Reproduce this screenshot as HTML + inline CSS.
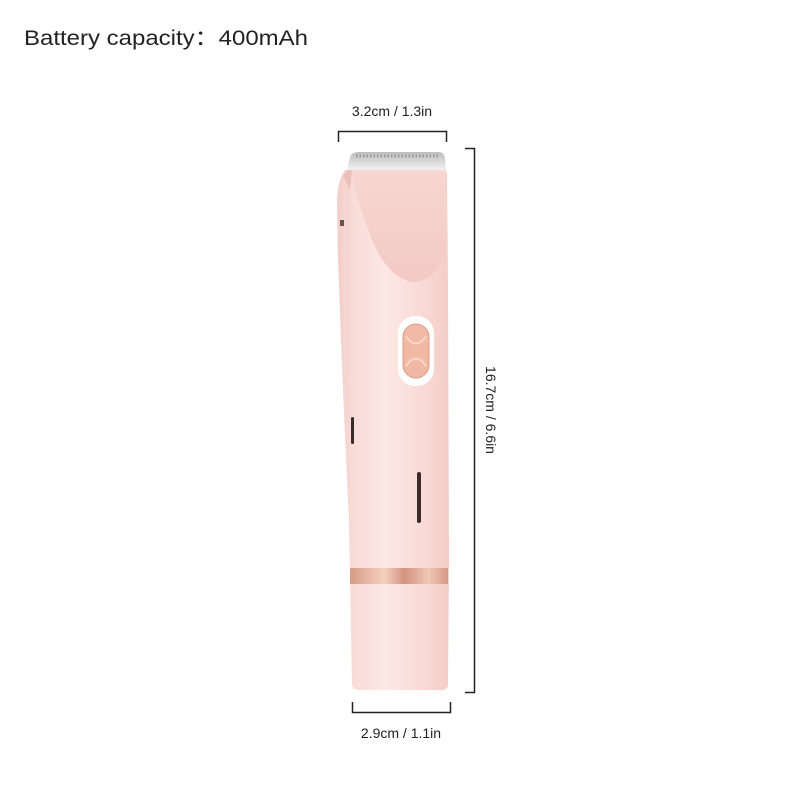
<!DOCTYPE html>
<html><head><style>
html,body{margin:0;padding:0;background:#fff;width:800px;height:800px;overflow:hidden}
svg{display:block}
text{font-family:"Liberation Sans","DejaVu Sans",sans-serif;fill:#222}
</style></head><body>
<svg width="800" height="800" viewBox="0 0 800 800" xmlns="http://www.w3.org/2000/svg">
<defs>
<linearGradient id="body" x1="0" x2="1" y1="0" y2="0">
<stop offset="0" stop-color="#f3cdc8"/>
<stop offset="0.15" stop-color="#f9dcd8"/>
<stop offset="0.45" stop-color="#fde8e5"/>
<stop offset="0.8" stop-color="#f8d8d4"/>
<stop offset="1" stop-color="#f4cdc8"/>
</linearGradient>
<linearGradient id="head" x1="0" x2="0" y1="0" y2="1">
<stop offset="0" stop-color="#f8d6d1"/>
<stop offset="1" stop-color="#f3c9c4"/>
</linearGradient>
<linearGradient id="ring" x1="0" x2="1">
<stop offset="0" stop-color="#d99c86"/>
<stop offset="0.35" stop-color="#f4cfc0"/>
<stop offset="0.55" stop-color="#d3957f"/>
<stop offset="0.8" stop-color="#f0c6b7"/>
<stop offset="1" stop-color="#d69a85"/>
</linearGradient>
<linearGradient id="blade" x1="0" x2="0" y1="0" y2="1">
<stop offset="0" stop-color="#bdbdbd"/>
<stop offset="1" stop-color="#f3f3f3"/>
</linearGradient>
</defs>
<text x="24" y="45" font-size="21" textLength="284" lengthAdjust="spacingAndGlyphs">Battery capacity：400mAh</text>

<text x="392" y="116" font-size="14" text-anchor="middle">3.2cm / 1.3in</text>
<path d="M338.5 142 V131.5 H446.5 V142" fill="none" stroke="#222" stroke-width="1.5"/>
<path d="M465 148.5 H474.5 V692.5 H465" fill="none" stroke="#222" stroke-width="1.5"/>
<text transform="translate(486,410) rotate(90)" font-size="14" text-anchor="middle">16.7cm / 6.6in</text>
<path d="M352.5 702 V712.5 H450.5 V702" fill="none" stroke="#222" stroke-width="1.5"/>
<text x="401" y="738" font-size="14" text-anchor="middle">2.9cm / 1.1in</text>

<path d="M347 170 L350 157 Q352 152 358 152 H438 Q444 152 445 158 L446 170 Z" fill="url(#blade)"/>
<path d="M356 156 H440" stroke="#999" stroke-width="3" stroke-dasharray="1.5 2"/>
<path d="M345 170 Q338 180 337 200 L338 260 Q343 400 349 520 L352 685 Q353 690 360 690 H442 Q448 690 448 684 L449 560 L448 280 L447 175 Q447 170 440 170 Z" fill="url(#body)"/>
<path d="M353 170 H446 L447 240 Q440 282 412 282 Q388 278 372 240 Q360 210 353 180 Z" fill="url(#head)"/>
<path d="M343 176 L347 170 L352 170 L350 190" fill="#ebbfba"/>
<rect x="340" y="220" width="4" height="6" fill="#6a5250"/>
<rect x="398" y="316" width="36" height="70" rx="17" fill="#fff"/>
<rect x="403" y="324" width="26" height="54" rx="13" fill="#f1b9a4" stroke="#d89c88" stroke-width="1"/>
<path d="M406 336 Q416 351 426 336 M406 366 Q416 351 426 366" stroke="#f8d5c8" stroke-width="2" fill="none"/>
<rect x="351" y="417" width="3" height="27" rx="1.5" fill="#3a2a2a"/>
<rect x="417" y="472" width="4" height="51" rx="2" fill="#3a2a2a"/>
<rect x="350" y="568" width="98" height="16" fill="url(#ring)"/>
</svg>
</body></html>
